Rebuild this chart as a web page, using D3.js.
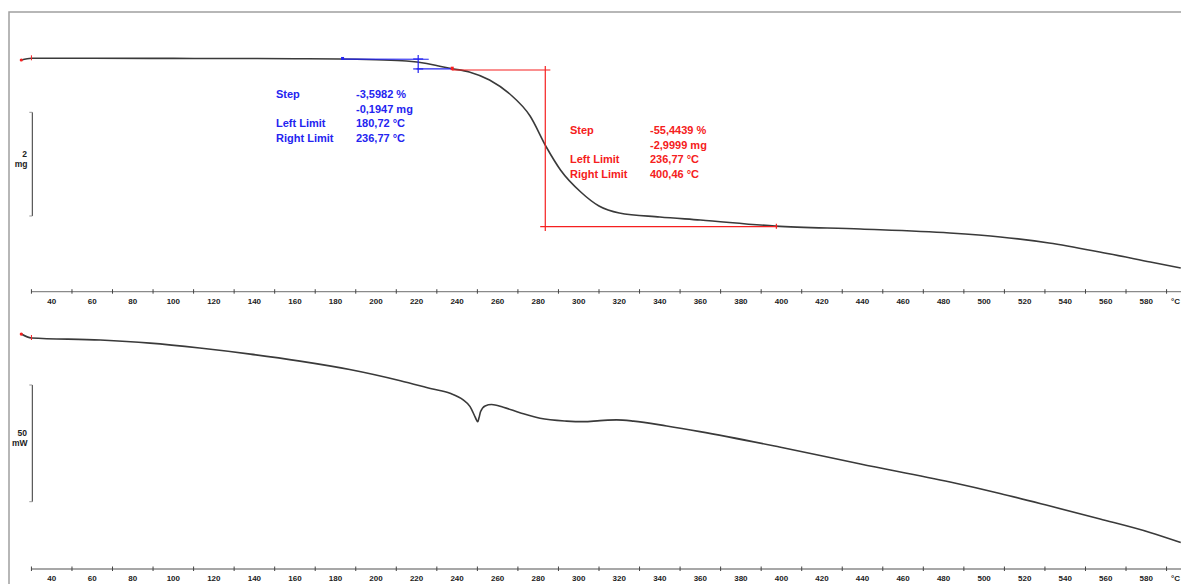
<!DOCTYPE html>
<html>
<head>
<meta charset="utf-8">
<script src="https://cdn.jsdelivr.net/npm/d3@7"></script>
<style>
  body { margin: 0; background: #fff; }
  svg { display: block; font-family: "Liberation Sans", Arial, sans-serif; }
</style>
</head>
<body>
<svg id="chart" width="1181" height="584"></svg>
<script>
// temperature axis (°C)
const tickLabels = d3.range(40, 600, 20);
const minorTicks = d3.range(30, 600, 20);

// TGA curve: temperature (°C) / mass (mg)
const tgaTemp = [25, 30, 60, 100, 138, 160, 182, 200, 215, 225, 232, 237, 246, 256, 266, 276, 284, 291, 301, 310, 320, 340, 360, 397, 439, 483, 508, 532, 557, 582, 597];
const tgaMass = [5.377, 5.41, 5.41, 5.408, 5.406, 5.402, 5.397, 5.381, 5.358, 5.31, 5.252, 5.213, 5.146, 4.991, 4.721, 4.297, 3.699, 3.256, 2.831, 2.561, 2.426, 2.349, 2.291, 2.174, 2.118, 2.041, 1.964, 1.848, 1.675, 1.482, 1.366];

// DSC curve: temperature (°C) / heat flow (mW, arbitrary offset)
const dscTemp = [25, 30, 64, 88.5, 113, 138, 162.5, 187, 212, 228, 236.5, 243, 246.4, 248.8, 249.6, 250.2, 250.8, 251.6, 253.8, 257, 262.8, 271, 280.9, 294, 302.3, 310.5, 318.7, 327, 343.4, 359.8, 399, 439, 483.2, 507.8, 532.5, 557.2, 581.8, 597];
const dscFlow = [1.7, 0, -0.86, -2.2, -4.3, -6.9, -9.9, -13.5, -18.3, -21.85, -23.7, -26.56, -29.4, -33.7, -35.2, -35.85, -34.2, -31.5, -29.1, -28.5, -29.7, -32, -34.4, -35.6, -35.85, -35.4, -35.1, -35.6, -37.7, -40.1, -46.7, -54.0, -61.7, -66.6, -72.0, -77.55, -83.3, -87.6];

// step evaluation 1 (blue)
const blueBase = [[183.5, 5.395], [226, 5.392]];
const blueLow = [[220, 5.205], [237.5, 5.205]];
const blueCross = [220.8, 5.397, 5.205];
const blueMarks = [183.5];
const blueText = [["Step", "-3,5982 %"], ["", "-0,1947 mg"], ["Left Limit", "180,72 °C"], ["Right Limit", "236,77 °C"]];

// step evaluation 2 (red)
const redTop = [[237.5, 5.184], [286, 5.184]];
const redBottom = [[281, 2.162], [398, 2.162]];
const redVertical = [283.5, 5.26, 2.08];
const redMarks = [237.6, 397.5];
const redText = [["Step", "-55,4439 %"], ["", "-2,9999 mg"], ["Left Limit", "236,77 °C"], ["Right Limit", "400,46 °C"]];

const svg = d3.select("#chart");
const blue = "#2424f0";
const red = "#f52020";
const curveColor = "#3a3a3a";

const x = d3.scaleLinear().domain([40, 580]).range([51.7, 1146.3]);
const yTG = d3.scaleLinear().domain([0, 5.41]).range([338.8, 58.3]);
const yDSC = d3.scaleLinear().domain([0, 50]).range([338, 221.3]);

// frame
svg.append("rect")
  .attr("x", 9).attr("y", 12)
  .attr("width", 1250).attr("height", 650)
  .attr("fill", "none")
  .attr("stroke", "#a0a0a0")
  .attr("stroke-width", 1.5);

const drawAxis = (yLine) => {
  const g = svg.append("g");
  g.append("line")
    .attr("x1", x(30)).attr("x2", 1181)
    .attr("y1", yLine).attr("y2", yLine)
    .attr("stroke", "#8a8a8a").attr("stroke-width", 1.3);
  minorTicks.forEach(t => {
    g.append("line")
      .attr("x1", x(t)).attr("x2", x(t))
      .attr("y1", yLine - 2.5).attr("y2", yLine + 2)
      .attr("stroke", "#444").attr("stroke-width", 1);
  });
  tickLabels.forEach(t => {
    g.append("text")
      .attr("x", x(t)).attr("y", yLine + 12)
      .attr("text-anchor", "middle")
      .attr("font-size", 8).attr("font-weight", "bold")
      .attr("fill", "#222")
      .text(t);
  });
  g.append("text")
    .attr("x", 1180).attr("y", yLine + 12)
    .attr("text-anchor", "end")
    .attr("font-size", 8).attr("font-weight", "bold")
    .attr("fill", "#222")
    .text("°C");
};
drawAxis(291.7);
drawAxis(569);

const drawScaleBar = (y0, y1, val, unit) => {
  const g = svg.append("g");
  g.append("line").attr("x1", 32.3).attr("x2", 32.3).attr("y1", y0).attr("y2", y1)
    .attr("stroke", "#333").attr("stroke-width", 1);
  [y0, y1].forEach(yy => {
    g.append("line").attr("x1", 29.3).attr("x2", 32.3).attr("y1", yy).attr("y2", yy)
      .attr("stroke", "#999").attr("stroke-width", 1);
  });
  const mid = (y0 + y1) / 2;
  g.append("text").attr("x", 27).attr("y", mid - 7.5)
    .attr("text-anchor", "end").attr("font-size", 8.5).attr("font-weight", "bold")
    .attr("fill", "#222").text(val);
  g.append("text").attr("x", 27.5).attr("y", mid + 2.5)
    .attr("text-anchor", "end").attr("font-size", 8.5).attr("font-weight", "bold")
    .attr("fill", "#222").text(unit);
};
drawScaleBar(112.3, 112.3 + (yTG(0) - yTG(2)), "2", "mg");
drawScaleBar(385, 385 + (yDSC(0) - yDSC(50)), "50", "mW");

// curves
const tgaLine = d3.line()
  .x(d => x(d[0])).y(d => yTG(d[1]))
  .curve(d3.curveMonotoneX);
svg.append("path")
  .datum(d3.zip(tgaTemp, tgaMass))
  .attr("d", tgaLine)
  .attr("fill", "none").attr("stroke", curveColor).attr("stroke-width", 1.6);

const dscLine = d3.line()
  .x(d => x(d[0])).y(d => yDSC(d[1]))
  .curve(d3.curveMonotoneX);
svg.append("path")
  .datum(d3.zip(dscTemp, dscFlow))
  .attr("d", dscLine)
  .attr("fill", "none").attr("stroke", curveColor).attr("stroke-width", 1.6);

// start markers
[[yTG, tgaTemp, tgaMass], [yDSC, dscTemp, dscFlow]].forEach(([ys, ts, vs]) => {
  svg.append("circle").attr("cx", x(ts[0])).attr("cy", ys(vs[0])).attr("r", 1.6).attr("fill", red);
  svg.append("line")
    .attr("x1", x(ts[1])).attr("x2", x(ts[1]))
    .attr("y1", ys(vs[1]) - 3).attr("y2", ys(vs[1]) + 2)
    .attr("stroke", red).attr("stroke-width", 1);
});

// blue step evaluation
const seg = (pts, color, w) => svg.append("line")
  .attr("x1", x(pts[0][0])).attr("y1", yTG(pts[0][1]))
  .attr("x2", x(pts[1][0])).attr("y2", yTG(pts[1][1]))
  .attr("stroke", color).attr("stroke-width", w);

seg(blueBase, blue, 1.2);
seg(blueLow, blue, 1.2);
svg.append("line")
  .attr("x1", x(blueCross[0])).attr("x2", x(blueCross[0]))
  .attr("y1", yTG(blueCross[1]) - 4).attr("y2", yTG(blueCross[2]) + 4)
  .attr("stroke", blue).attr("stroke-width", 1.2);
[blueCross[1], blueCross[2]].forEach(m => {
  svg.append("line")
    .attr("x1", x(blueCross[0]) - 5).attr("x2", x(blueCross[0]) + 5)
    .attr("y1", yTG(m)).attr("y2", yTG(m))
    .attr("stroke", blue).attr("stroke-width", 1.2);
});
blueMarks.forEach(t => {
  svg.append("rect").attr("x", x(t) - 1.5).attr("y", yTG(5.397) - 2)
    .attr("width", 3).attr("height", 3).attr("fill", blue);
});

// red step evaluation
seg(redTop, red, 1.2);
seg(redBottom, red, 1.2);
svg.append("line")
  .attr("x1", x(redVertical[0])).attr("x2", x(redVertical[0]))
  .attr("y1", yTG(redVertical[1])).attr("y2", yTG(redVertical[2]))
  .attr("stroke", red).attr("stroke-width", 1.2);
svg.append("rect").attr("x", x(redMarks[0]) - 1.5).attr("y", yTG(5.2) - 2.5)
  .attr("width", 3).attr("height", 3.5).attr("fill", red);
svg.append("line")
  .attr("x1", x(redMarks[1])).attr("x2", x(redMarks[1]))
  .attr("y1", yTG(2.162) - 3).attr("y2", yTG(2.162) + 2)
  .attr("stroke", red).attr("stroke-width", 1.2);

// texts
const drawText = (rows, x0, x1, yStart, color) => {
  const g = svg.append("g").attr("font-size", 11).attr("font-weight", "bold").attr("fill", color);
  rows.forEach((r, i) => {
    const yy = yStart + i * 14.7;
    g.append("text").attr("x", x0).attr("y", yy).text(r[0]);
    g.append("text").attr("x", x1).attr("y", yy).text(r[1]);
  });
};
drawText(blueText, 276, 356, 98, blue);
drawText(redText, 570, 650, 134, red);
</script>
</body>
</html>
